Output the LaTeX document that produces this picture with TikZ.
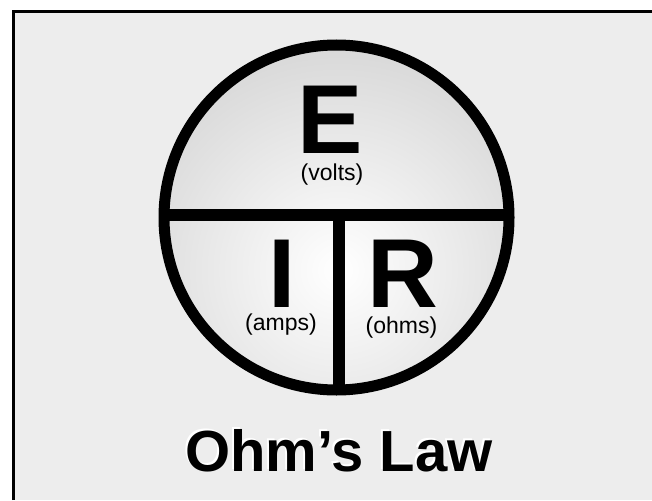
\documentclass[tikz,border=0pt]{standalone}
\usepackage{fontspec}
\setmainfont{Liberation Sans}
\begin{document}
\begin{tikzpicture}[x=1pt,y=-1pt,
  bigletter/.style={font=\bfseries\fontsize{98}{98}\selectfont, anchor=base, inner sep=0pt},
  unit/.style={font=\fontsize{23}{23}\selectfont, anchor=base, inner sep=0pt},
  titletext/.style={font=\bfseries\fontsize{58}{58}\selectfont, anchor=base, inner sep=0pt},
  divider/.style={line width=12pt, line cap=butt}]
\useasboundingbox (0,0) rectangle (652,500);
\fill[white] (0,0) rectangle (652,500);
\fill[fill={rgb,255:red,237;green,237;blue,237}] (13.5,11.5) rectangle (652,500);
\coordinate (fb) at (13.5,500);
\coordinate (fc) at (13.5,11.5);
\coordinate (fr) at (652,11.5);
\draw[line width=3pt, black, line join=miter] (fb) -- (fc) -- (fr);
% shaded disc
\begin{scope}
\clip (336.5,217.5) circle (172.5);
\shade[inner color=white, outer color={rgb,255:red,212;green,212;blue,212}] (338,270) circle (250);
\end{scope}
\coordinate (c) at (336.5,217.5);
\coordinate (hl) at (150,215);
\coordinate (hr) at (520,215);
\coordinate (vt) at (339,215);
\coordinate (vb) at (339,400);
\begin{scope}
\clip (c) circle (172.5);
\draw[divider] (hl) -- (hr);
\draw[divider] (vt) -- (vb);
\end{scope}
\draw[line width=11pt] (c) circle (172.5);
% letters
\node[bigletter] (E) at (330,153) {E};
\node[unit] (volts) at (332,180.5) {(volts)};
\node[bigletter] (I) at (282.5,307) {I};
\node[unit] (amps) at (281,330) {(amps)};
\node[bigletter] (R) at (402.5,307) {R};
\node[unit] (ohms) at (401.5,333) {(ohms)};
% title
\node[titletext, white] (titleshadow) at (337,469.5) {Ohm’s Law};
\node[titletext, black] (title) at (339,471.5) {Ohm’s Law};
\end{tikzpicture}
\end{document}
